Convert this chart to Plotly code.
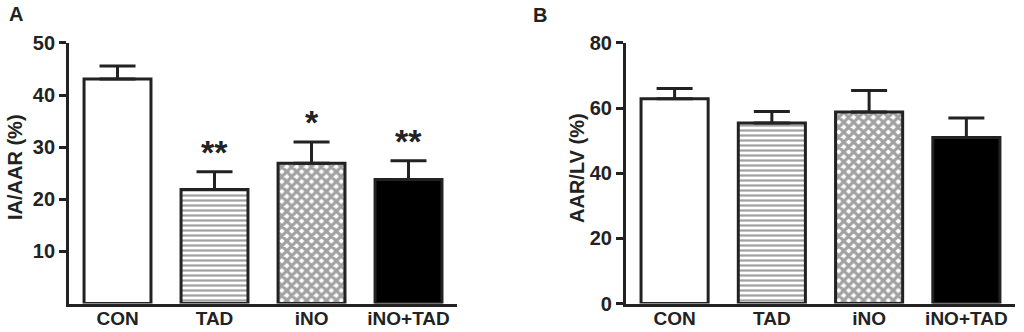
import plotly.graph_objects as go

categories = ["CON", "TAD", "iNO", "iNO+TAD"]
ia_aar = [43.1, 21.9, 26.9, 23.8]
ia_aar_sem = [2.5, 3.4, 4.1, 3.6]
ia_aar_sig = ["", "**", "*", "**"]
aar_lv = [62.9, 55.4, 58.8, 51.0]
aar_lv_sem = [3.1, 3.6, 6.6, 6.0]

fills = ["white", "white", "white", "black"]
shapes = ["", "-", "x", ""]
FONT = "Liberation Sans, Arial, sans-serif"
INK = "#222"

fig = go.Figure()

def add_bars(vals, errs, xa, ya):
    fig.add_trace(go.Bar(
        x=categories, y=vals, xaxis=xa, yaxis=ya, width=0.69,
        marker=dict(color=fills, line=dict(color=INK, width=3),
                    pattern=dict(shape=shapes, fgcolor="black", bgcolor="white",
                                 size=[6, 5, 7, 6], solidity=[0.3, 0.45, 0.7, 0.3])),
        error_y=dict(type="data", symmetric=False, array=errs,
                     arrayminus=[0]*len(errs), color=INK, thickness=3, width=18),
        showlegend=False, hoverinfo="skip"))

add_bars(ia_aar, ia_aar_sem, "x", "y")
add_bars(aar_lv, aar_lv_sem, "x2", "y2")

for c, v, e, s in zip(categories, ia_aar, ia_aar_sem, ia_aar_sig):
    if s:
        fig.add_annotation(x=c, y=v + e, xref="x", yref="y", text=s, showarrow=False,
                           yanchor="bottom", yshift=-1,
                           font=dict(family=FONT, size=34, color=INK, weight="bold"))

tf = dict(family=FONT, size=20, color=INK, weight="bold")
axis_common = dict(showline=True, linecolor=INK, linewidth=3, showgrid=False,
                   zeroline=False, automargin=False, tickfont=tf)
xtf = dict(family=FONT, size=19, color=INK, weight="bold")

fig.update_layout(
    width=1024, height=332, margin=dict(l=0, r=0, t=0, b=0),
    paper_bgcolor="white", plot_bgcolor="white",
    xaxis=dict(domain=[0.0674, 0.4463], range=[-0.5, 3.5], ticks="", anchor="y",
               ticklabelstandoff=-4, **{**axis_common, "tickfont": xtf}),
    yaxis=dict(domain=[0.0858, 0.8705], range=[0, 50], tickvals=[10, 20, 30, 40, 50],
               ticks="outside", ticklen=7, tickwidth=3, tickcolor=INK, anchor="x", **axis_common),
    xaxis2=dict(domain=[0.6113, 0.9912], range=[-0.5, 3.5], ticks="", anchor="y2",
                ticklabelstandoff=-4, **{**axis_common, "tickfont": xtf}),
    yaxis2=dict(domain=[0.0858, 0.8705], range=[0, 80], tickvals=[0, 20, 40, 60, 80],
                ticks="outside", ticklen=7, tickwidth=3, tickcolor=INK, anchor="x2", **axis_common),
)

lf = dict(family=FONT, size=20, color=INK, weight="bold")
ann = dict(xref="paper", yref="paper", showarrow=False, font=lf, xanchor="center", yanchor="middle")
fig.add_annotation(x=16/1024, y=1-14/332, text="A", **ann)
fig.add_annotation(x=540/1024, y=1-15/332, text="B", **ann)
fig.add_annotation(x=15/1024, y=1-167/332, text="IA/AAR (%)", textangle=-90, **ann)
fig.add_annotation(x=577/1024, y=1-168/332, text="AAR/LV (%)", textangle=-90, **ann)

fig.write_html("out.html")
